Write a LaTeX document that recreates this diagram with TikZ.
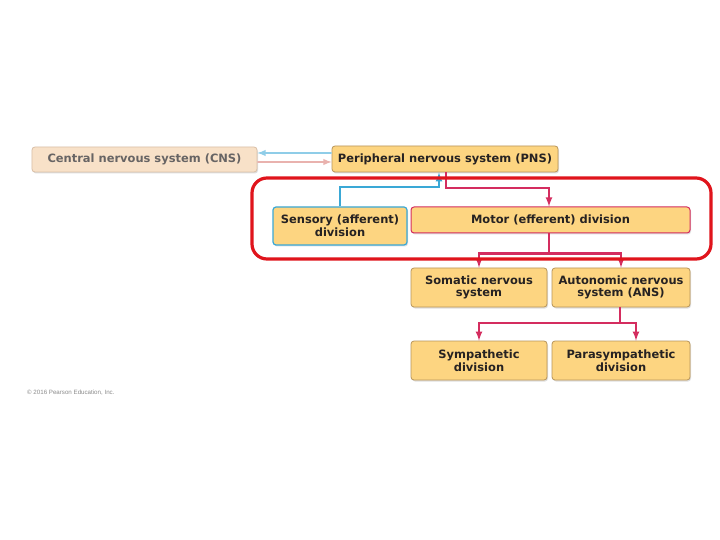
\documentclass[tikz,border=0pt]{standalone}
\usepackage{fontspec}
\setmainfont{DejaVu Sans}
\newfontfamily\notefont{Liberation Sans}
\usetikzlibrary{shadows}
\definecolor{boxfill}{HTML}{FDD581}
\definecolor{boxline}{HTML}{B8955A}
\definecolor{cnsfill}{HTML}{F8E1C8}
\definecolor{cnsline}{HTML}{D9BFA6}
\definecolor{sensline}{HTML}{3AA8D6}
\definecolor{motline}{HTML}{D42D5F}
\definecolor{palesens}{HTML}{8FCDE8}
\definecolor{palemot}{HTML}{E9B2AE}
\definecolor{hilite}{HTML}{E0141C}
\definecolor{txt}{HTML}{262222}
\tikzset{
  box/.style={draw=boxline, fill=boxfill, rounded corners=3bp, line width=0.8bp,
    align=center, inner sep=0pt, font=\bfseries\fontsize{11.5}{12.8}\selectfont,
    text=txt, drop shadow={shadow xshift=1bp, shadow yshift=-1.5bp, opacity=0.25}},
  sens/.style={-latex, draw=sensline, line width=2.1bp},
  mot/.style={-latex, draw=motline, line width=2.1bp}
}
\begin{document}
\begin{tikzpicture}[x=1bp, y=-1bp]
  \useasboundingbox[fill=white] (0,0) rectangle (720,540);

  \node[box, draw=cnsline, fill=cnsfill, text=txt!70, minimum width=225bp, minimum height=25bp] (cns) at (144.5,159.5) {Central nervous system (CNS)};
  \node[box, minimum width=226bp, minimum height=26bp] (pns) at (445,159) {Peripheral nervous system (PNS)};

  \node[box, draw=sensline, line width=1.2bp, minimum width=134bp, minimum height=38bp] (sensory) at (340,226) {Sensory (afferent)\\division};
  \node[box, draw=motline, line width=1bp, minimum width=279bp, minimum height=26bp] (motor) at (550.5,220) {Motor (efferent) division};

  \node[box, minimum width=136bp, minimum height=39bp] (somatic) at (479,287.5) {Somatic nervous\\system};
  \node[box, minimum width=138bp, minimum height=39bp] (ans) at (621,287.5) {Autonomic nervous\\system (ANS)};
  \node[box, minimum width=136bp, minimum height=39bp] (symp) at (479,360.5) {Sympathetic\\division};
  \node[box, minimum width=138bp, minimum height=39bp] (para) at (621,360.5) {Parasympathetic\\division};

  % CNS <-> PNS
  \draw[sens, draw=palesens, line width=1.8bp] ([yshift=6bp]pns.west) -- ([yshift=6.5bp]cns.east);
  \draw[mot, draw=palemot, line width=1.8bp] ([yshift=-2.5bp]cns.east) -- ([yshift=-3bp]pns.west);

  % PNS divisions
  \draw[sens] (sensory.north) -- ++(0,-19) -| ([xshift=-6bp]pns.south);
  \draw[mot] ([xshift=1bp]pns.south) -- ++(0,16) -| ([xshift=-1.5bp]motor.north);

  % motor branches
  \draw[motline, line width=2.1bp] ([xshift=-1.5bp]motor.south) -- ++(0,20) coordinate (mj);
  \draw[mot] (mj) -| (somatic.north);
  \draw[mot] (mj) -| (ans.north);

  % autonomic branches
  \draw[motline, line width=2.1bp] ([xshift=-1bp]ans.south) -- ++(0,16) coordinate (aj);
  \draw[mot] (aj) -| (symp.north);
  \draw[mot] (aj) -| ([xshift=15bp]para.north);

  % highlight
  \draw[hilite, line width=3.2bp, rounded corners=15bp] (252,178) rectangle (711,259);

  \node[anchor=west, text=black!45, font=\notefont\fontsize{6.2}{7}\selectfont, inner sep=0pt] (copy) at (27,393) {© 2016 Pearson Education, Inc.};
\end{tikzpicture}
\end{document}
